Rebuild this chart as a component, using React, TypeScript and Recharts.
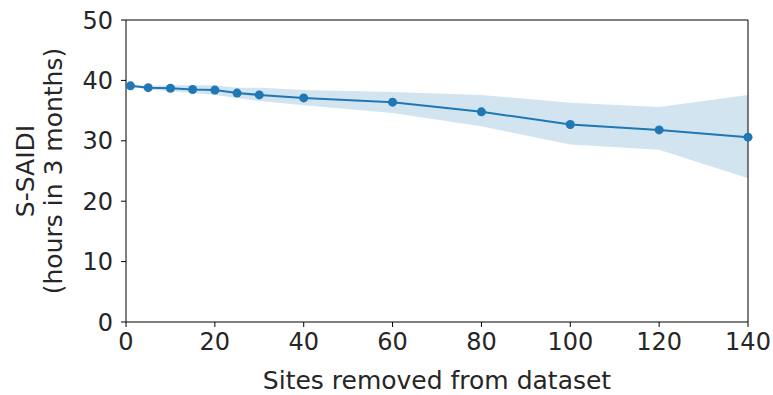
import {
  Area,
  ComposedChart,
  Line,
  ReferenceLine,
  XAxis,
  YAxis,
} from "recharts";

const sitesRemoved = [1, 5, 10, 15, 20, 25, 30, 40, 60, 80, 100, 120, 140];
const ssaidi = [39.1, 38.8, 38.7, 38.5, 38.4, 37.9, 37.6, 37.1, 36.4, 34.8, 32.7, 31.8, 30.6];
const bandLow = [38.9, 38.5, 38.2, 37.9, 37.6, 37.1, 36.6, 35.9, 34.6, 32.4, 29.4, 28.5, 23.8];
const bandHigh = [39.3, 39.1, 39.2, 39.2, 39.2, 38.8, 38.8, 38.4, 38.1, 37.6, 36.3, 35.6, 37.6];

const xTicks = [0, 20, 40, 60, 80, 100, 120, 140];
const yTicks = [0, 10, 20, 30, 40, 50];

const BLUE = "#1f77b4";
const FONT = "DejaVu Sans";
const INK = "#262626";

const data = sitesRemoved.map((s, i) => ({
  sites: s,
  ssaidi: ssaidi[i],
  band: [bandLow[i], bandHigh[i]],
}));

function YLabel({ viewBox }: any) {
  const cy = viewBox.y + viewBox.height / 2;
  const lines: [string, number][] = [
    ["S-SAIDI", 25],
    ["(hours in 3 months)", 53],
  ];
  return (
    <g>
      {lines.map(([txt, x]) => (
        <text
          key={txt}
          x={x}
          y={cy}
          transform={`rotate(-90, ${x}, ${cy})`}
          textAnchor="middle"
          dominantBaseline="central"
          fontFamily={FONT}
          fontSize={25}
          fill={INK}
        >
          {txt}
        </text>
      ))}
    </g>
  );
}

export default function App() {
  const tickStyle = { fontFamily: FONT, fontSize: 24, fill: INK };
  return (
    <div style={{ position: "absolute", left: 0, top: 0, background: "#fff" }}>
      <ComposedChart
        width={773}
        height={395}
        data={data}
        margin={{ top: 20, right: 25, bottom: 0, left: 0 }}
      >
        <XAxis
          dataKey="sites"
          type="number"
          domain={[0, 140]}
          ticks={xTicks}
          tick={tickStyle}
          tickSize={5}
          tickMargin={6}
          stroke="#000"
          height={73}
          label={{
            value: "Sites removed from dataset",
            position: "insideBottom",
            offset: 6,
            style: { fontFamily: FONT, fontSize: 25, fill: INK },
          }}
        />
        <YAxis
          type="number"
          domain={[0, 50]}
          ticks={yTicks}
          tick={tickStyle}
          tickSize={5}
          tickMargin={8}
          stroke="#000"
          width={126}
          label={<YLabel />}
        />
        <ReferenceLine y={50} stroke="#000" />
        <ReferenceLine x={140} stroke="#000" />
        <Area
          dataKey="band"
          type="linear"
          stroke="none"
          fill={BLUE}
          fillOpacity={0.2}
          isAnimationActive={false}
          activeDot={false}
        />
        <Line
          dataKey="ssaidi"
          type="linear"
          stroke={BLUE}
          strokeWidth={2}
          dot={{ r: 4.5, fill: BLUE, stroke: BLUE, strokeWidth: 0 }}
          activeDot={false}
          isAnimationActive={false}
        />
      </ComposedChart>
    </div>
  );
}
